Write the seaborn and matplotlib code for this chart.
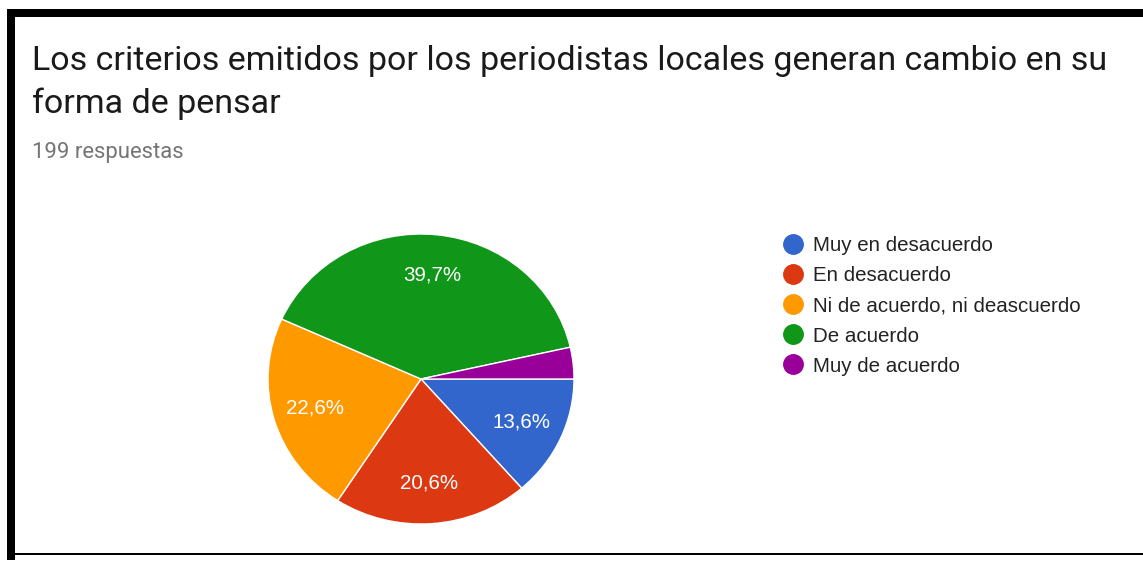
import matplotlib.pyplot as plt
from matplotlib.lines import Line2D
from matplotlib.patches import Rectangle
import seaborn as sns

sns.set_theme(style="white")
plt.rcParams['font.family'] = ['Liberation Sans', 'DejaVu Sans']

# data
categories = ["Muy en desacuerdo", "En desacuerdo", "Ni de acuerdo, ni deascuerdo",
              "De acuerdo", "Muy de acuerdo"]
counts = [27, 41, 45, 79, 7]
colors = ["#3366cc", "#dc3912", "#ff9900", "#109618", "#990099"]
title = "Los criterios emitidos por los periodistas locales generan cambio en su\nforma de pensar"
subtitle = "199 respuestas"

W, H = 1143, 563
fig = plt.figure(figsize=(W / 100, H / 100), dpi=100)

# pie axes, placed in pixel terms (slightly squashed like the screenshot)
cx, cy, rx, ry = 421, 379, 153, 145
ax = fig.add_axes([(cx - rx) / W, (H - cy - ry) / H, 2 * rx / W, 2 * ry / H])


def pct_label(p):
    if p < 5:
        return ""
    return f"{p:.1f}%".replace(".", ",")


wedges, texts, autotexts = ax.pie(
    counts, colors=colors, startangle=0, counterclock=False,
    autopct=pct_label, pctdistance=0.72,
    wedgeprops=dict(edgecolor="white", linewidth=1),
    textprops=dict(color="white", fontsize=14.8),
)
ax.set_aspect("auto")
ax.set_xlim(-1, 1)
ax.set_ylim(-1, 1)
ax.axis("off")

# titles
fig.text(32 / W, 1 - 113 / H, title, fontsize=24.45, color="#1a1a1a",
         family=["Roboto", "DejaVu Sans"], ha="left", va="baseline",
         linespacing=1.42)
fig.text(32 / W, 1 - 158 / H, subtitle, fontsize=15.9, color="#757575",
         family=["Roboto", "DejaVu Sans"], ha="left", va="baseline")

# legend
handles = [Line2D([], [], marker="o", linestyle="none", markersize=14,
                  markerfacecolor=c, markeredgecolor=c) for c in colors]
fig.legend(handles, categories, loc="upper left",
           bbox_to_anchor=(772 / W, 1 - 226 / H), frameon=False,
           fontsize=14.8, labelcolor="#222222", borderpad=0,
           handletextpad=0.5, handlelength=1.0, labelspacing=0.54)

# screenshot frame
fig.patches.append(Rectangle((7 / W, 1 - 17 / H), 1, 8 / H, transform=fig.transFigure,
                             facecolor="black", edgecolor="none"))
fig.patches.append(Rectangle((7 / W, 1 - 560 / H), 8 / W, 551 / H, transform=fig.transFigure,
                             facecolor="black", edgecolor="none"))
fig.patches.append(Rectangle((7 / W, 1 - 555 / H), 1, 2 / H, transform=fig.transFigure,
                             facecolor="black", edgecolor="none"))

fig.savefig("out.png", dpi=100, facecolor="white")
